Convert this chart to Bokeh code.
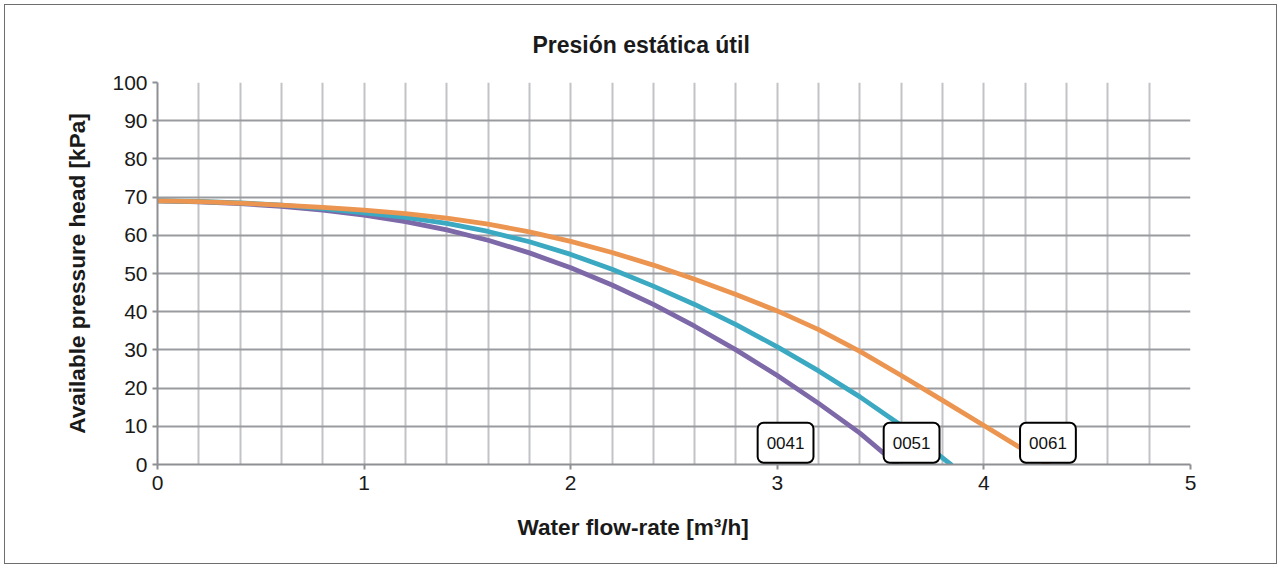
from bokeh.plotting import figure
from bokeh.models import (Range1d, SingleIntervalTicker, FixedTicker, Label, Title)
from bokeh.embed import file_html
from bokeh.resources import INLINE

# ---- data ----
x_0041 = [0.0, 0.2, 0.4, 0.6, 0.8, 1.0, 1.2, 1.4, 1.6, 1.8, 2.0, 2.2, 2.4, 2.6, 2.8, 3.0, 3.2, 3.4, 3.58]
y_0041 = [69.0, 68.75, 68.3, 67.6, 66.6, 65.3, 63.6, 61.4, 58.7, 55.4, 51.5, 47.0, 41.9, 36.2, 30.0, 23.3, 16.0, 8.2, 0.0]

x_0051 = [0.0, 0.2, 0.4, 0.6, 0.8, 1.0, 1.2, 1.4, 1.6, 1.8, 2.0, 2.2, 2.4, 2.6, 2.8, 3.0, 3.2, 3.4, 3.6, 3.84]
y_0051 = [69.0, 68.85, 68.5, 67.9, 67.0, 65.9, 64.7, 63.1, 61.0, 58.3, 55.0, 51.1, 46.7, 41.9, 36.6, 30.8, 24.5, 17.7, 10.2, 0.0]

x_0061 = [0.0, 0.2, 0.4, 0.6, 0.8, 1.0, 1.2, 1.4, 1.6, 1.8, 2.0, 2.2, 2.4, 2.6, 2.8, 3.0, 3.2, 3.4, 3.6, 3.8, 4.0, 4.2, 4.31]
y_0061 = [69.0, 68.8, 68.4, 67.9, 67.3, 66.6, 65.7, 64.5, 62.9, 60.9, 58.4, 55.5, 52.2, 48.5, 44.5, 40.2, 35.3, 29.6, 23.3, 16.8, 10.2, 3.6, 0.0]

series_names = ["0041", "0051", "0061"]
label_x = [3.04, 3.65, 4.31]
label_y = [5.7, 5.7, 5.7]

x_ticks = [0, 1, 2, 3, 4, 5]
y_ticks = [0, 10, 20, 30, 40, 50, 60, 70, 80, 90, 100]

title_text = "Presión estática útil"
x_label = "Water flow-rate [m³/h]"
y_label = "Available pressure head [kPa]"

colors = ["#7d68a8", "#3aa9c1", "#ec9550"]
FONT = "Liberation Sans"
TXT = "#1a1a1a"

p = figure(width=1271, height=558, output_backend="svg", toolbar_location=None,
           x_range=Range1d(0, 5), y_range=Range1d(0, 100),
           min_border_left=152, min_border_right=86, min_border_top=77, min_border_bottom=99,
           frame_width=1033, frame_height=382,
           styles={"border": "1px solid #6e6e6e", "margin-left": "4px", "margin-top": "4px"})

p.title.text = title_text
p.title.align = "left"
p.title.vertical_align = "top"
p.title.offset = 375
p.title.standoff = 46
p.title.text_font = FONT
p.title.text_font_size = "23px"
p.title.text_font_style = "bold"
p.title.text_color = TXT

p.outline_line_color = None
p.background_fill_color = "white"
p.border_fill_color = "white"

# grids
p.xgrid.ticker = SingleIntervalTicker(interval=0.2, num_minor_ticks=0)
p.xgrid.grid_line_color = "#c2c3c7"
p.xgrid.grid_line_width = 2
p.ygrid.ticker = SingleIntervalTicker(interval=10, num_minor_ticks=0)
p.ygrid.grid_line_color = "#9a9b9f"
p.ygrid.grid_line_width = 2

# axes
p.xaxis.ticker = FixedTicker(ticks=x_ticks)
p.yaxis.ticker = FixedTicker(ticks=y_ticks)
for ax in (p.xaxis[0], p.yaxis[0]):
    ax.axis_line_color = "#8e9094"
    ax.axis_line_width = 2
    ax.major_tick_line_color = "#8e9094"
    ax.major_tick_line_width = 2
    ax.major_tick_in = 0
    ax.major_tick_out = 5
    ax.minor_tick_line_color = None
    ax.major_label_text_font = FONT
    ax.major_label_text_font_size = "21px"
    ax.major_label_text_color = TXT
    ax.axis_label_text_font = FONT
    ax.axis_label_text_font_size = "22.6px"
    ax.axis_label_text_font_style = "bold"
    ax.axis_label_text_color = TXT

p.yaxis.axis_label = y_label
p.yaxis.major_label_standoff = 5
p.yaxis.axis_label_standoff = 19
p.xaxis.major_label_standoff = 6

xt = Title(text=x_label, align="left", offset=360,
           text_font=FONT, text_font_size="22.6px", text_font_style="bold",
           text_color=TXT, standoff=40)
p.add_layout(xt, "below")

# curves
for xs, ys, c in zip([x_0041, x_0051, x_0061], [y_0041, y_0051, y_0061], colors):
    p.line(xs, ys, line_color=c, line_width=4.8, line_join="round", line_cap="round")

# labels
for name, lx, ly in zip(series_names, label_x, label_y):
    p.add_layout(Label(x=lx, y=ly, text=name, text_align="center", text_baseline="middle",
                       text_font=FONT, text_font_size="17px", text_color="#111111",
                       background_fill_color="white", border_line_color="black",
                       border_line_width=2, padding=(9, 14), border_radius=6))

open("out.html", "w").write(file_html(p, INLINE))
